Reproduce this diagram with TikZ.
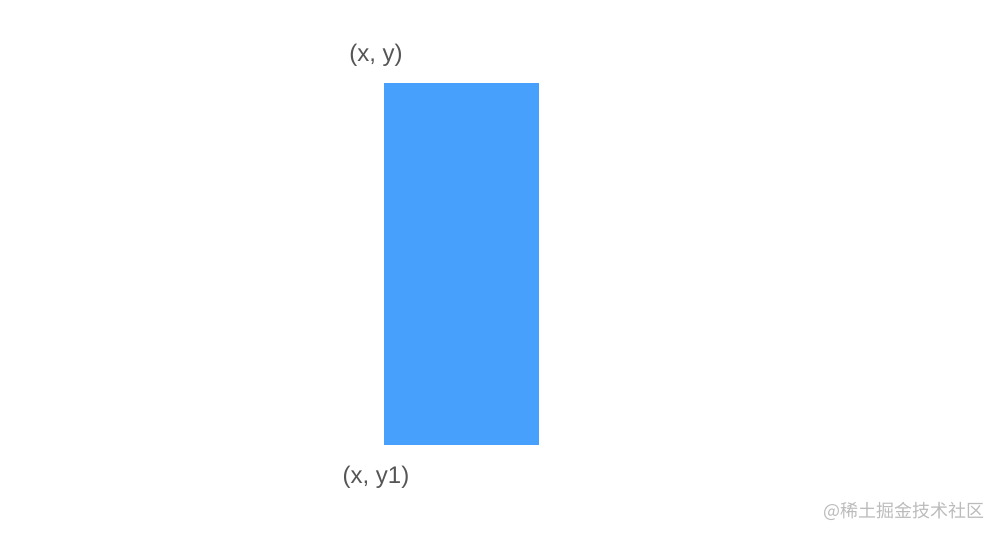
\documentclass[tikz,border=0pt]{standalone}
\usepackage{fontspec}
\setmainfont{Liberation Sans}
\newfontfamily\cjk{Noto Sans CJK SC}
\definecolor{barblue}{HTML}{46A0FC}
\definecolor{labelgray}{HTML}{555555}
\definecolor{wmgray}{HTML}{BBBBBB}
\begin{document}
\begin{tikzpicture}[x=1pt,y=-1pt,
  lbl/.style={text=labelgray,font=\fontsize{24}{28}\selectfont,inner sep=0pt},
  wm/.style={text=wmgray,font=\cjk\fontsize{18}{20}\selectfont,inner sep=0pt,anchor=east}]
\useasboundingbox (0,0) rectangle (1000,538);
\fill[barblue] (384,83) rectangle (539,445);
\node[lbl] (top) at (376,55) {(x, y)};
\node[lbl] (bot) at (376,477) {(x, y1)};
\node[wm] (mark) at (985,511) {@稀土掘金技术社区};
\end{tikzpicture}
\end{document}
